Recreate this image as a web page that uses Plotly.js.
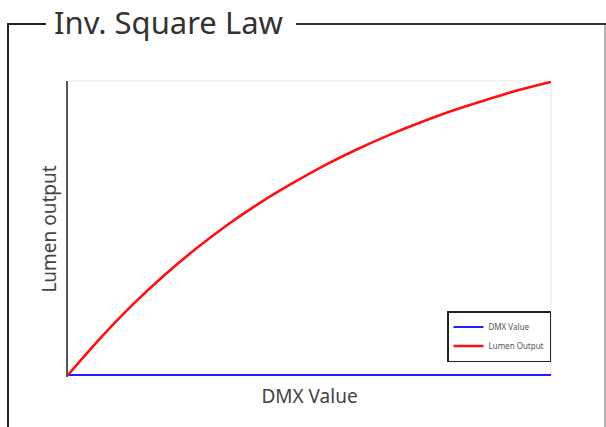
<!DOCTYPE html>
<html>
<head>
<meta charset="utf-8">
<script src="https://cdn.plot.ly/plotly-3.0.1.min.js"></script>
<style>html,body{margin:0;padding:0;background:#fff;}#chart{width:606px;height:427px;}</style>
</head>
<body>
<div id="chart"></div>
<script>
// DMX value (0-255) sample positions
const dmx = [0, 17, 34, 51, 68, 85, 102, 119, 136, 153, 170, 187, 204, 221, 238, 255];
// Lumen output (percent)
const lumen = [0, 12.5, 23.9, 34.1, 43.3, 51.6, 59.0, 65.6, 71.7, 77.1, 82.0, 86.4, 90.4, 93.9, 97.2, 100];
// DMX Value series (flat along the baseline)
const dmxSeries = [0, 0, 0, 0, 0, 0, 0, 0, 0, 0, 0, 0, 0, 0, 0, 0];
const seriesNames = ["DMX Value", "Lumen Output"];
const chartTitle = "Inv. Square Law";
const xTitle = "DMX Value";
const yTitle = "Lumen output";

const W = 606, H = 427;
const m = {l: 68, r: 55, t: 81, b: 50};
const pw = W - m.l - m.r, ph = H - m.t - m.b;
const fx = px => (px - m.l) / pw;
const fy = py => (H - m.b - py) / ph;

const font = "'Noto Sans', 'DejaVu Sans', sans-serif";

const traces = [
  {x: dmx, y: dmxSeries, name: seriesNames[0], mode: "lines",
   line: {color: "#1f1fff", width: 2}},
  {x: dmx, y: lumen, name: seriesNames[1], mode: "lines",
   line: {color: "#ff1010", width: 2.6, shape: "spline", smoothing: 1}}
];

const shapes = [
  // outer frame: top segments around the title, left and right sides
  {type: "line", xref: "paper", yref: "paper", x0: fx(7), x1: fx(46), y0: fy(24), y1: fy(24), line: {color: "#222", width: 2}},
  {type: "line", xref: "paper", yref: "paper", x0: fx(296), x1: fx(606), y0: fy(24), y1: fy(24), line: {color: "#333", width: 2}},
  {type: "line", xref: "paper", yref: "paper", x0: fx(8), x1: fx(8), y0: fy(23), y1: fy(430), line: {color: "#222", width: 2}},
  {type: "line", xref: "paper", yref: "paper", x0: fx(605), x1: fx(605), y0: fy(25), y1: fy(430), line: {color: "#9a9a9a", width: 1.5}},
  // faint plot border top and right
  {type: "line", xref: "paper", yref: "paper", x0: 0, x1: 1, y0: 1, y1: 1, line: {color: "#f0f0f0", width: 1.5}, layer: "below"},
  {type: "line", xref: "paper", yref: "paper", x0: 1, x1: 1, y0: 0, y1: 1, line: {color: "#f0f0f0", width: 1.5}, layer: "below"}
];

const layout = {
  width: W, height: H,
  margin: m,
  paper_bgcolor: "#fff", plot_bgcolor: "#fff",
  font: {family: font, color: "#444"},
  title: {text: chartTitle, xref: "container", yref: "container", x: 54 / W, xanchor: "left",
          y: 1 - 23 / H, yanchor: "middle", font: {family: font, size: 31, color: "#333"}},
  xaxis: {range: [0, 255], showgrid: false, zeroline: false, showticklabels: false, ticks: "",
          showline: false, fixedrange: true,
          title: {text: xTitle, font: {family: font, size: 19, color: "#444"}, standoff: 12}},
  yaxis: {range: [-0.7, 100.3], showgrid: false, zeroline: false, showticklabels: false, ticks: "",
          showline: true, linecolor: "#555", linewidth: 2, fixedrange: true,
          title: {text: yTitle, font: {family: font, size: 19, color: "#444"}, standoff: 4}},
  showlegend: true,
  legend: {x: 1, xanchor: "right", y: fy(362), yanchor: "bottom",
           bordercolor: "#222", borderwidth: 1.5, bgcolor: "#fff",
           font: {family: font, size: 8, color: "#555"}, itemwidth: 30,
           tracegroupgap: 0},
  shapes: shapes
};

Plotly.newPlot("chart", traces, layout, {displayModeBar: false, staticPlot: true});
</script>
</body>
</html>
